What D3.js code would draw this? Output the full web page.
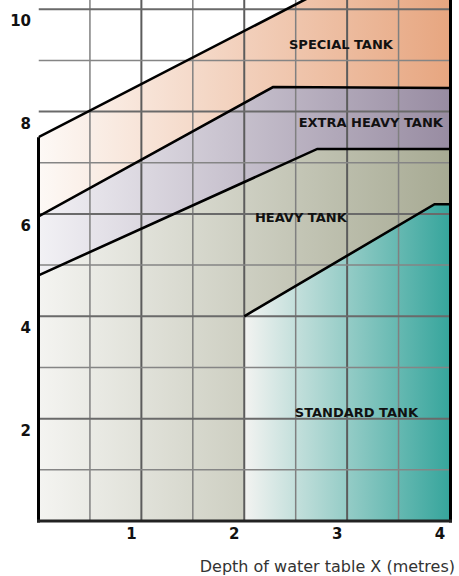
<!DOCTYPE html>
<html>
<head>
<meta charset="utf-8">
<script src="https://d3js.org/d3.v7.min.js"></script>
<style>
  body { margin: 0; background: #fff; }
  text { font-family: "DejaVu Sans", Verdana, sans-serif; }
</style>
</head>
<body>
<svg id="chart" width="459" height="576"></svg>
<script>
// boundary lines of each zone [depth, value]
const specialLine = [[0, 7.5], [4, 11.65]];
const extraLine = [[0, 5.95], [2.28, 8.48], [4, 8.46]];
const heavyLine = [[0, 4.8], [2.71, 7.27], [4, 7.27]];
const standardLine = [[2, 4], [3.85, 6.19], [4, 6.19]];

const zoneNames = ['SPECIAL TANK', 'EXTRA HEAVY TANK', 'HEAVY TANK', 'STANDARD TANK'];
const zoneLabelPos = [[2.94, 9.22], [3.23, 7.7], [2.55, 5.84], [3.09, 2.03]];
const zoneColors = [['#fdf9f6', '#e7a680'], ['#f2f1f5', '#988ca2'], ['#f4f4f1', '#a7aa93'], ['#f3f3f1', '#36a59c']];

const xTicks = [1, 2, 3, 4];
const yTicks = [2, 4, 6, 8, 10];
const xTitle = 'Depth of water table X (metres)';

const svg = d3.select('#chart');
const x = d3.scaleLinear().domain([0, 4]).range([38.5, 450]);
const y = d3.scaleLinear().domain([0, 10.18]).range([521, 0]);

const defs = svg.append('defs');
defs.append('clipPath').attr('id', 'plotclip')
    .append('rect').attr('x', x(0)).attr('y', y(10.18))
    .attr('width', x(4) - x(0)).attr('height', y(0) - y(10.18));

zoneColors.forEach(function(c, i) {
    let g = defs.append('linearGradient').attr('id', 'grad' + i)
        .attr('x1', 0).attr('x2', 1).attr('y1', 0).attr('y2', 0);
    g.append('stop').attr('offset', 0).attr('stop-color', c[0]);
    g.append('stop').attr('offset', 1).attr('stop-color', c[1]);
});

const plot = svg.append('g').attr('clip-path', 'url(#plotclip)');

// each zone = area under its boundary, stacked top zone first
const area = d3.area().x(d => x(d[0])).y0(y(0)).y1(d => y(d[1]));
const fills = [specialLine, extraLine, heavyLine, [[2, 0]].concat(standardLine)];
fills.forEach(function(pts, i) {
    plot.append('path')
        .attr('d', area(pts))
        .attr('fill', 'url(#grad' + i + ')');
});

// grid
d3.range(0.5, 4, 0.5).forEach(function(v) {
    let major = v % 1 === 0;
    plot.append('line')
        .attr('x1', x(v)).attr('x2', x(v)).attr('y1', y(10.18)).attr('y2', y(0))
        .attr('stroke', major ? '#5c5c5c' : '#808080')
        .attr('stroke-width', major ? 2 : 1.5);
});
d3.range(1, 11).forEach(function(v) {
    let major = v % 2 === 0;
    plot.append('line')
        .attr('x1', x(0)).attr('x2', x(4)).attr('y1', y(v)).attr('y2', y(v))
        .attr('stroke', major ? '#6a6a6a' : '#858585')
        .attr('stroke-width', major ? 2 : 1.5);
});

// boundary lines
const line = d3.line().x(d => x(d[0])).y(d => y(d[1]));
[specialLine, extraLine, heavyLine, standardLine].forEach(function(pts) {
    plot.append('path')
        .attr('d', line(pts))
        .attr('fill', 'none')
        .attr('stroke', '#000')
        .attr('stroke-width', 2.6);
});

// frame
svg.append('line')
    .attr('x1', x(0)).attr('x2', x(0)).attr('y1', y(7.5)).attr('y2', y(0) + 1.5)
    .attr('stroke', '#000').attr('stroke-width', 3);
svg.append('line')
    .attr('x1', x(4) + 0.5).attr('x2', x(4) + 0.5).attr('y1', 0).attr('y2', y(0) + 1.5)
    .attr('stroke', '#000').attr('stroke-width', 3);
svg.append('line')
    .attr('x1', x(0) - 1.5).attr('x2', x(4) + 2).attr('y1', y(0)).attr('y2', y(0))
    .attr('stroke', '#222').attr('stroke-width', 3);

// zone labels
zoneNames.forEach(function(n, i) {
    svg.append('text')
        .attr('x', x(zoneLabelPos[i][0]))
        .attr('y', y(zoneLabelPos[i][1]))
        .attr('text-anchor', 'middle')
        .style('font-size', '13px')
        .style('font-weight', 'bold')
        .attr('fill', '#111')
        .text(n);
});

// tick labels
yTicks.forEach(function(v) {
    svg.append('text')
        .attr('x', 31).attr('y', y(v) + 17)
        .attr('text-anchor', 'end')
        .style('font-size', '15px').style('font-weight', 'bold')
        .attr('fill', '#111')
        .text(v);
});
xTicks.forEach(function(v) {
    svg.append('text')
        .attr('x', x(v) - 10).attr('y', 539)
        .attr('text-anchor', 'middle')
        .style('font-size', '15px').style('font-weight', 'bold')
        .attr('fill', '#111')
        .text(v);
});

svg.append('text')
    .attr('x', 455).attr('y', 572)
    .attr('text-anchor', 'end')
    .style('font-size', '16px')
    .attr('fill', '#333')
    .text(xTitle);
</script>
</body>
</html>
